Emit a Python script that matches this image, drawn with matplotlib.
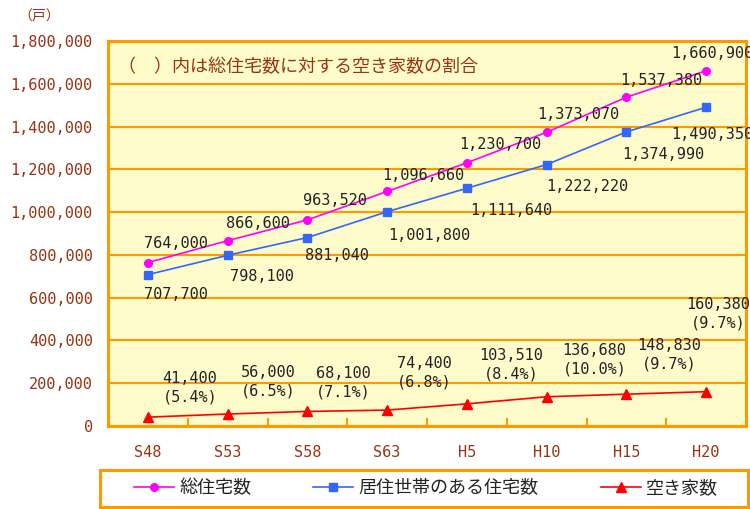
import matplotlib
matplotlib.use("Agg")
import matplotlib.pyplot as plt
from matplotlib.ticker import FixedLocator
from matplotlib.patches import Rectangle

categories = ["S48", "S53", "S58", "S63", "H5", "H10", "H15", "H20"]
total_houses = [764000, 866600, 963520, 1096660, 1230700, 1373070, 1537380, 1660900]
occupied_houses = [707700, 798100, 881040, 1001800, 1111640, 1222220, 1374990, 1490350]
vacant_houses = [41400, 56000, 68100, 74400, 103510, 136680, 148830, 160380]
vacancy_rate = ["5.4", "6.5", "7.1", "6.8", "8.4", "10.0", "9.7", "9.7"]
y_ticks = [0, 200000, 400000, 600000, 800000, 1000000, 1200000, 1400000, 1600000, 1800000]
series_names = ["総住宅数", "居住世帯のある住宅数", "空き家数"]

# label offsets in pixels (dx, dy up)
off_total = [(28, 19), (30, 17), (28, 19), (36, 16), (33, 18), (32, 18), (35, 17), (6, 17)]
off_occ = [(28, -20), (34, -21), (30, -18), (42, -24), (44, -22), (41, -22), (37, -23), (6, -27)]
off_vac = [(42, 29), (41, 32), (36, 29), (37, 37), (44, 39), (48, 37), (43, 39), (12, 78)]

ORANGE = "#FF9900"
BROWN = "#993311"
TXT = "#222222"
JP = ["Noto Sans CJK JP", "DejaVu Sans"]
MONO = ["DejaVu Sans Mono"]
NUMSIZE = 11

fig = plt.figure(figsize=(7.5, 5.09), dpi=100)
ax = fig.add_axes([108/750, 1 - 426/509, (746-108)/750, (426-41)/509])
ax.set_facecolor("#FFFCCC")
x = list(range(len(categories)))

ax.plot(x, total_houses, color="#FF00FF", lw=1.2, marker="o", ms=5.5, zorder=3)
ax.plot(x, occupied_houses, color="#3366FF", lw=1.2, marker="s", ms=6, zorder=3)
ax.plot(x, vacant_houses, color="#FF0000", lw=1.2, marker="^", ms=7, zorder=3)

ax.set_xlim(-0.5, len(categories) - 0.5)
ax.set_ylim(0, 1800000)
ax.set_yticks(y_ticks)
ax.set_yticklabels([f"{v:,}" for v in y_ticks], family=MONO, fontsize=NUMSIZE, color=BROWN)
ax.set_xticks(x)
ax.set_xticklabels(categories, family=MONO, fontsize=NUMSIZE, color=BROWN)
ax.xaxis.set_minor_locator(FixedLocator([i + 0.5 for i in range(len(categories) - 1)]))
ax.tick_params(axis="x", which="major", length=0, pad=14)
ax.tick_params(axis="x", which="minor", direction="in", length=6, width=1.5, color=ORANGE)
ax.tick_params(axis="y", direction="in", length=5, width=1.5, color=ORANGE, pad=11)
ax.grid(axis="y", color=ORANGE, lw=1.5, zorder=1)
ax.set_axisbelow(True)
for s in ax.spines.values():
    s.set_color(ORANGE)
    s.set_linewidth(2.2)

px = 0.72
def fmt(v):
    return f"{v:,}"

for i in x:
    dx, dy = off_total[i]
    ax.annotate(fmt(total_houses[i]), (i, total_houses[i]), xytext=(dx*px, dy*px),
                textcoords="offset points", ha="center", va="center",
                family=MONO, fontsize=NUMSIZE, color=TXT, annotation_clip=False, zorder=4)
    dx, dy = off_occ[i]
    ax.annotate(fmt(occupied_houses[i]), (i, occupied_houses[i]), xytext=(dx*px, dy*px),
                textcoords="offset points", ha="center", va="center",
                family=MONO, fontsize=NUMSIZE, color=TXT, annotation_clip=False, zorder=4)
    dx, dy = off_vac[i]
    ax.annotate(fmt(vacant_houses[i]) + "\n(" + vacancy_rate[i] + "%)",
                (i, vacant_houses[i]), xytext=(dx*px, dy*px),
                textcoords="offset points", ha="center", va="center", linespacing=1.3,
                family=MONO, fontsize=NUMSIZE, color=TXT, annotation_clip=False, zorder=4)

ax.text(0.016, 0.932, "（　）内は総住宅数に対する空き家数の割合", transform=ax.transAxes,
        family=JP, fontsize=13, color=BROWN, ha="left", va="center")
fig.text(18/750, 1 - 16/509, "（戸）", family=JP, fontsize=10, color=BROWN,
         ha="left", va="center")

# legend box
fig.patches.append(Rectangle((100/750, 1 - 507/509), (748-100)/750, 37/509,
                             transform=fig.transFigure, facecolor="white",
                             edgecolor=ORANGE, lw=2.2, zorder=-1))
leg = fig.legend(ax.lines, series_names, loc="center",
                 bbox_to_anchor=(426/750, 1 - 488/509),
                 bbox_transform=fig.transFigure, ncol=3, frameon=False,
                 prop={"family": JP, "size": 13}, handlelength=2.2, handletextpad=0.3,
                 columnspacing=3.45, borderaxespad=0, borderpad=0)
leg.set_zorder(5)
for t in leg.get_texts():
    t.set_color(TXT)

fig.savefig("out.png", dpi=100)
